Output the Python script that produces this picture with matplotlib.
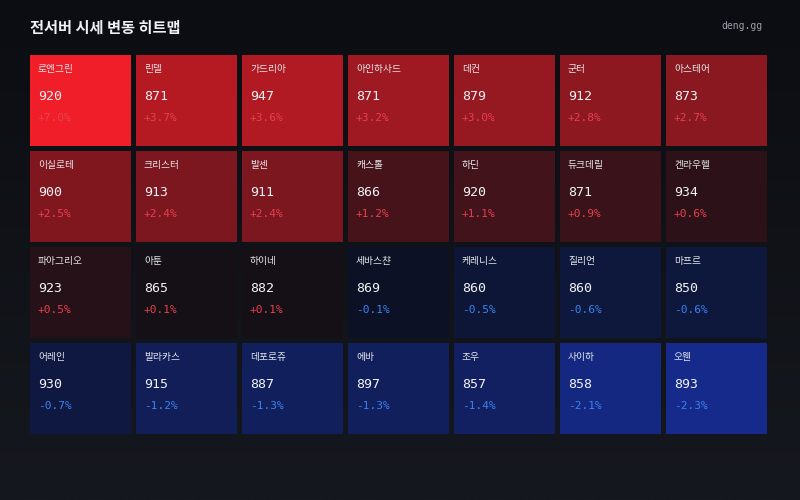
import numpy as np
import matplotlib.pyplot as plt
from matplotlib.patches import Rectangle

plt.rcParams['font.family'] = ['Noto Sans CJK KR', 'DejaVu Sans']

# server data (sorted by change)
servers = ['로엔그린', '린델', '가드리아', '아인하사드', '데컨', '군터', '아스테어',
           '이실로테', '크리스터', '발센', '캐스톨', '하딘', '듀크데릴', '켄라우헬',
           '파아그리오', '아툰', '하이네', '세바스챤', '케레니스', '질리언', '마프르',
           '어레인', '발라카스', '데포로쥬', '에바', '조우', '사이하', '오웬']
prices = [920, 871, 947, 871, 879, 912, 873,
          900, 913, 911, 866, 920, 871, 934,
          923, 865, 882, 869, 860, 860, 850,
          930, 915, 887, 897, 857, 858, 893]
changes = [7.0, 3.7, 3.6, 3.2, 3.0, 2.8, 2.7,
           2.5, 2.4, 2.4, 1.2, 1.1, 0.9, 0.6,
           0.5, 0.1, 0.1, -0.1, -0.5, -0.6, -0.6,
           -0.7, -1.2, -1.3, -1.3, -1.4, -2.1, -2.3]

ncols = 7
red_base = np.array([17, 16, 22]) / 255
red = np.array([239, 30, 40]) / 255
blue_base = np.array([12, 16, 32]) / 255
blue = np.array([24, 50, 172]) / 255


def tile_color(c):
    if c >= 0:
        t = min(c / 5.0, 1.0)
        return red_base + t * (red - red_base)
    t = min(-c / 3.0, 1.0)
    return blue_base + t * (blue - blue_base)


fig = plt.figure(figsize=(8, 5), dpi=100)
ax = fig.add_axes([0, 0, 1, 1])
ax.set_xlim(0, 800)
ax.set_ylim(500, 0)
ax.axis('off')

# background gradient
grad = np.linspace(0, 1, 200)[:, None]
top = np.array([11, 13, 18]) / 255
bot = np.array([21, 24, 30]) / 255
bg = top + grad[..., None] * (bot - top)
bg = np.repeat(bg, 2, axis=1)
ax.imshow(bg, extent=(0, 800, 500, 0), aspect='auto', zorder=0)

ax.text(30, 28, '전서버 시세 변동 히트맵', color='#eef0f4', fontsize=11,
        fontweight='bold', va='center', ha='left')
ax.text(762, 26, 'deng.gg', color='#9a9fa8', fontsize=7, family='DejaVu Sans Mono',
        va='center', ha='right')

x0, y0, pw, ph, w, h = 30, 55, 106, 96, 101, 91
for i, (name, price, ch) in enumerate(zip(servers, prices, changes)):
    r, c = divmod(i, ncols)
    x = x0 + c * pw
    y = y0 + r * ph
    ax.add_patch(Rectangle((x, y), w, h, facecolor=tile_color(ch), edgecolor='none', zorder=1))
    ax.text(x + 8, y + 14, name, color='#e4e6ea', fontsize=7, fontweight='medium',
            va='center', ha='left', zorder=2)
    ax.text(x + 8, y + 41, str(price), color='#f2f3f5', fontsize=9.5,
            family='DejaVu Sans Mono', va='center', ha='left', zorder=2)
    pct_color = '#e8404f' if ch > 0 else '#3b82f0'
    ax.text(x + 8, y + 63, f'{ch:+.1f}%', color=pct_color, fontsize=8,
            family='DejaVu Sans Mono', va='center', ha='left', zorder=2)

fig.savefig('out.png', dpi=100)
